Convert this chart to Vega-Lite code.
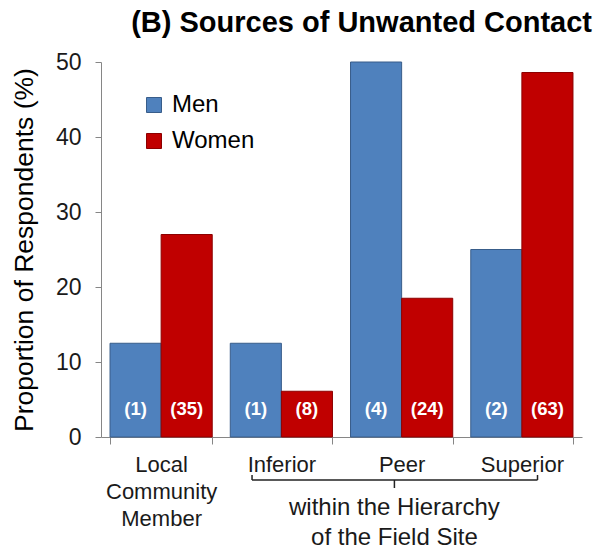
{
  "$schema": "https://vega.github.io/schema/vega-lite/v6.json",
  "autosize": "none",
  "width": 481,
  "height": 375,
  "padding": {"left": 101, "top": 62, "right": 18, "bottom": 112},
  "background": "white",
  "config": {"font": "Liberation Sans", "view": {"stroke": null}},
  "title": {"text": "(B) Sources of Unwanted Contact", "fontSize": 29, "fontWeight": "bold", "color": "#000", "anchor": "end", "dx": 10, "offset": 13},
  "data": {"values": [
    {"source": "Local Community Member", "gender": "Men", "pct": 12.5, "n": "(1)"},
    {"source": "Local Community Member", "gender": "Women", "pct": 27, "n": "(35)"},
    {"source": "Inferior", "gender": "Men", "pct": 12.5, "n": "(1)"},
    {"source": "Inferior", "gender": "Women", "pct": 6.1, "n": "(8)"},
    {"source": "Peer", "gender": "Men", "pct": 50, "n": "(4)"},
    {"source": "Peer", "gender": "Women", "pct": 18.5, "n": "(24)"},
    {"source": "Superior", "gender": "Men", "pct": 25, "n": "(2)"},
    {"source": "Superior", "gender": "Women", "pct": 48.6, "n": "(63)"}
  ]},
  "resolve": {"scale": {"x": "independent"}, "axis": {"x": "independent"}},
  "layer": [
    {
      "encoding": {
        "x": {"field": "source", "type": "nominal", "sort": null,
          "scale": {"paddingInner": 0.15, "paddingOuter": 0.075},
          "axis": {"title": null, "labelAngle": 0, "labelFontSize": 22, "labelColor": "#1a1a1a",
            "labelLineHeight": 27, "labelPadding": 10, "tickBand": "extent", "tickSize": 7,
            "domainColor": "#868686", "tickColor": "#868686", "labelBaseline": "top",
            "labelExpr": "datum.value == 'Local Community Member' ? ['Local', 'Community', 'Member'] : datum.value"}},
        "xOffset": {"field": "gender", "type": "nominal", "scale": {"paddingInner": 0, "paddingOuter": 0}}
      },
      "layer": [
        {
          "mark": {"type": "bar", "strokeWidth": 1},
          "encoding": {
            "y": {"field": "pct", "type": "quantitative", "scale": {"domain": [0, 50]},
              "axis": {"title": "Proportion of Respondents (%)", "titleFontSize": 26.5, "titleFontWeight": "normal",
                "titleColor": "#000", "titlePadding": 17, "values": [0, 10, 20, 30, 40, 50], "grid": false,
                "labelFontSize": 23, "labelColor": "#1a1a1a", "labelPadding": 14, "tickSize": 6,
                "domainColor": "#868686", "tickColor": "#868686"}},
            "color": {"field": "gender", "type": "nominal",
              "scale": {"domain": ["Men", "Women"], "range": ["#4F81BD", "#C00000"]},
              "legend": {"title": null, "orient": "none", "legendX": 41, "legendY": 31, "symbolType": "square",
                "symbolSize": 225, "symbolStrokeWidth": 1, "labelFontSize": 24, "labelColor": "#000",
                "labelOffset": 6, "rowPadding": 12, "padding": 0}},
            "stroke": {"field": "gender", "type": "nominal",
              "scale": {"domain": ["Men", "Women"], "range": ["#385D8A", "#8C0000"]}, "legend": null}
          }
        },
        {
          "mark": {"type": "text", "color": "white", "fontWeight": "bold", "fontSize": 18.5, "baseline": "middle", "dy": -28},
          "encoding": {
            "y": {"datum": 0, "type": "quantitative"},
            "text": {"field": "n"}
          }
        }
      ]
    },
    {
      "data": {"values": [{}]},
      "encoding": {},
      "layer": [
        {"mark": {"type": "rule", "color": "#222", "strokeWidth": 1.5},
          "encoding": {"x": {"datum": 1.256, "type": "quantitative", "scale": {"domain": [0, 4]}, "axis": null},
            "x2": {"datum": 3.63}, "y": {"datum": -5.73, "type": "quantitative"}}},
        {"mark": {"type": "rule", "color": "#222", "strokeWidth": 1.5},
          "encoding": {"x": {"datum": 1.256, "type": "quantitative", "scale": {"domain": [0, 4]}, "axis": null},
            "y": {"datum": -5.07, "type": "quantitative"}, "y2": {"datum": -5.73}}},
        {"mark": {"type": "rule", "color": "#222", "strokeWidth": 1.5},
          "encoding": {"x": {"datum": 3.63, "type": "quantitative", "scale": {"domain": [0, 4]}, "axis": null},
            "y": {"datum": -5.07, "type": "quantitative"}, "y2": {"datum": -5.73}}},
        {"mark": {"type": "rule", "color": "#222", "strokeWidth": 1.5},
          "encoding": {"x": {"datum": 2.44, "type": "quantitative", "scale": {"domain": [0, 4]}, "axis": null},
            "y": {"datum": -5.73, "type": "quantitative"}, "y2": {"datum": -6.8}}},
        {"mark": {"type": "text", "fontSize": 24, "color": "#1a1a1a", "baseline": "middle", "align": "center"},
          "encoding": {"x": {"datum": 2.44, "type": "quantitative", "scale": {"domain": [0, 4]}, "axis": null},
            "y": {"datum": -9.5, "type": "quantitative"}, "text": {"value": "within the Hierarchy"}}},
        {"mark": {"type": "text", "fontSize": 24, "color": "#1a1a1a", "baseline": "middle", "align": "center"},
          "encoding": {"x": {"datum": 2.44, "type": "quantitative", "scale": {"domain": [0, 4]}, "axis": null},
            "y": {"datum": -13.4, "type": "quantitative"}, "text": {"value": "of the Field Site"}}}
      ]
    }
  ]
}
